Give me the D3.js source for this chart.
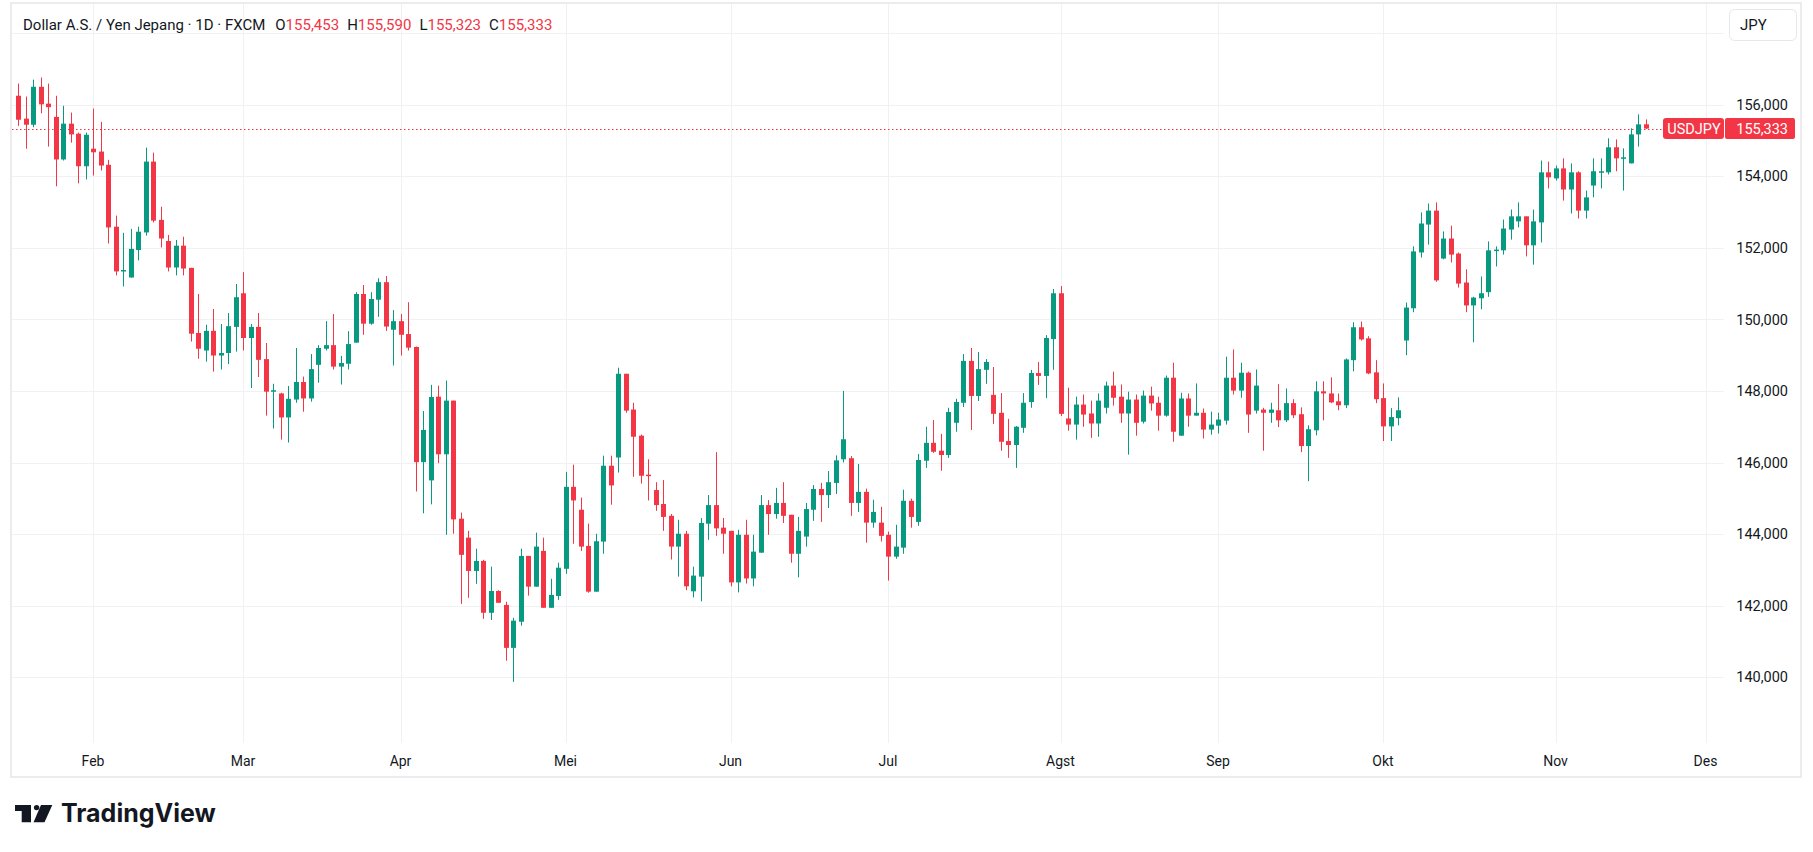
<!DOCTYPE html>
<html>
<head>
<meta charset="UTF-8">
<title>USDJPY 1D (FXCM)</title>
<script src="https://d3js.org/d3.v7.min.js"></script>
<style>
body { margin: 0; background: #fff; }
svg { display: block; font-family: "Trebuchet MS", Roboto, sans-serif; }
</style>
</head>
<body>
<div id="chart"></div>
<script>

// daily bars, first one is Mon 20 Jan 2025, weekdays only
var firstDay = new Date(2025, 0, 20)

var opens = [
156.25,155.61,155.44,156.50,156.03,155.66,154.47,155.47,155.19,154.28,
154.77,154.69,154.32,152.59,151.34,151.17,151.94,152.43,154.41,152.78,
152.19,151.45,152.06,151.44,149.62,149.13,149.68,148.99,149.06,149.79,
150.73,149.48,149.79,148.89,147.98,147.93,147.26,147.76,148.25,147.79,
148.73,149.18,149.28,148.68,148.76,149.35,150.71,149.88,150.55,151.04,
149.71,149.95,149.59,149.23,146.01,145.50,147.84,146.23,147.73,144.43,
143.90,142.97,143.25,141.80,142.41,142.02,140.82,141.55,143.39,142.53,
143.53,141.94,142.27,143.03,145.32,144.68,143.67,142.39,143.79,145.91,
146.14,148.48,147.48,146.75,145.66,145.23,144.84,144.51,143.65,144.01,
142.40,142.81,144.29,144.81,144.18,144.09,142.65,143.98,142.76,143.48,
144.81,144.56,144.87,144.54,143.45,143.93,144.68,145.26,145.09,145.43,
146.09,146.12,144.87,145.18,144.32,144.32,143.98,143.37,143.62,144.93,
144.34,146.05,146.55,146.33,146.21,147.11,147.67,148.84,147.86,148.59,
147.89,147.39,146.60,146.49,146.97,147.69,148.50,148.42,149.45,150.73,
147.23,147.06,147.62,147.37,147.09,147.53,148.15,147.84,147.37,147.76,
147.14,147.87,147.67,147.31,148.37,146.75,147.79,147.31,147.39,146.92,
147.03,147.17,148.37,148.01,148.51,147.45,147.48,147.39,147.46,147.18,
147.66,147.35,146.46,146.90,147.99,147.93,147.71,147.60,148.86,149.78,
149.47,148.52,147.80,147.01,147.24,149.41,150.31,151.87,152.65,153.04,
151.70,152.26,151.84,151.03,150.39,150.59,150.76,151.93,151.93,152.51,
152.74,152.88,152.07,152.71,154.11,153.94,154.22,153.63,154.11,153.04,
153.74,154.11,154.11,154.81,154.50,154.36,155.17,155.453]

var highs = [
156.59,156.23,156.70,156.76,156.59,156.25,155.97,155.78,155.22,155.22,
155.89,155.52,154.46,152.90,152.42,152.53,152.59,154.80,154.66,153.15,
152.36,152.22,152.31,151.44,150.71,149.85,150.29,149.87,150.18,150.99,
151.32,149.87,150.18,149.34,148.20,147.95,148.14,149.20,148.40,149.03,
149.28,149.95,150.15,148.98,149.67,150.76,150.96,150.76,151.15,151.21,
150.26,150.15,150.48,149.24,147.44,148.17,148.15,148.29,147.73,144.60,
144.09,143.59,143.28,143.09,142.43,142.11,141.66,143.59,143.39,144.04,
143.90,142.75,143.20,145.74,145.94,145.02,144.29,144.01,146.19,146.19,
148.65,148.48,147.67,146.78,146.09,145.45,145.51,144.56,144.40,144.09,
143.09,144.45,145.09,146.29,144.45,144.09,144.12,144.40,143.98,145.09,
144.95,145.29,145.45,144.54,144.48,144.87,145.37,145.43,145.76,146.20,
148.00,146.18,145.96,145.27,144.96,144.76,144.07,144.26,145.24,144.99,
146.24,147.00,147.19,146.80,147.53,147.78,149.03,149.20,149.09,148.89,
148.67,147.94,147.22,147.02,147.94,148.59,148.81,149.56,150.85,150.93,
148.09,147.84,147.90,147.73,147.93,148.26,148.54,148.18,147.98,147.90,
148.01,148.12,147.84,148.43,148.79,147.95,147.93,148.21,147.51,147.42,
147.39,148.96,149.16,148.79,148.54,148.60,147.53,147.67,148.19,148.07,
147.77,147.54,147.04,148.27,148.27,148.38,147.93,148.91,149.92,149.94,
149.53,148.86,148.21,147.52,147.82,150.47,152.04,152.99,153.24,153.27,
152.46,152.62,151.87,151.40,150.63,151.20,152.18,152.04,152.79,153.07,
153.27,152.88,153.07,154.44,154.41,154.30,154.50,154.36,154.14,153.60,
154.50,154.50,155.06,155.03,154.78,155.34,155.73,155.590]

var lows = [
155.41,154.77,155.37,155.76,154.83,153.72,154.44,154.94,153.80,153.91,
154.02,154.16,152.12,151.23,150.92,151.17,151.65,152.34,152.71,152.01,
151.34,151.23,151.23,149.38,148.90,148.82,148.54,148.60,148.75,149.10,
149.13,148.08,148.39,147.31,146.95,146.64,146.56,147.67,147.42,147.70,
148.23,149.13,148.60,148.18,148.60,149.35,149.57,149.85,150.07,149.68,
148.71,148.99,149.13,145.19,144.58,144.83,145.98,143.98,144.01,142.05,
142.22,142.61,141.63,141.60,142.08,140.46,139.87,141.44,142.28,142.53,
141.94,141.94,142.16,142.89,143.73,143.53,142.36,142.39,143.45,144.82,
145.72,147.39,145.60,145.41,144.94,144.65,144.09,143.29,142.81,142.43,
142.23,142.12,143.84,143.95,143.45,142.54,142.37,142.62,142.54,143.48,
143.98,144.43,144.31,143.20,142.79,143.65,144.37,144.34,144.73,145.12,
146.00,144.51,144.62,143.76,144.18,143.79,142.70,143.31,143.45,144.18,
144.23,145.85,146.27,145.77,146.13,146.86,147.55,146.91,147.72,148.20,
147.08,146.33,146.13,145.85,146.83,147.53,148.17,147.80,148.59,147.30,
146.89,146.64,147.00,146.69,146.72,147.37,147.59,147.11,146.22,146.75,
147.09,147.45,146.89,147.28,146.58,146.75,147.00,147.31,146.67,146.78,
146.81,147.06,147.90,147.81,146.83,147.37,146.33,147.11,146.99,147.13,
147.24,146.29,145.48,146.76,147.18,147.66,147.46,147.52,148.55,149.41,
148.47,147.66,146.60,146.60,147.04,149.00,150.20,151.73,152.09,151.05,
151.68,151.59,150.89,150.20,149.36,150.28,150.63,151.48,151.81,152.23,
152.57,151.76,151.53,152.15,153.66,153.88,153.32,152.96,152.82,152.82,
153.41,153.66,154.05,154.14,153.60,154.36,154.83,155.323]

var closes = [
155.58,155.44,156.50,156.01,155.93,154.47,155.47,155.17,154.28,155.16,
154.67,154.30,152.57,151.34,151.38,151.97,152.45,154.41,152.76,152.26,
151.45,152.06,151.42,149.60,149.18,149.68,148.99,149.06,149.81,150.62,
149.48,149.79,148.87,147.98,148.02,147.26,147.78,148.25,147.79,148.61,
149.20,149.28,148.68,148.78,149.31,150.71,149.88,150.57,151.04,149.80,
149.95,149.57,149.21,146.01,146.91,147.83,146.23,147.73,144.41,143.42,
142.97,143.25,141.80,142.41,142.08,140.82,141.58,143.39,142.53,143.65,
141.94,142.30,143.06,145.32,144.94,143.65,142.39,143.80,145.91,145.36,
148.48,147.45,146.72,145.63,145.63,144.81,144.48,143.65,144.01,142.54,
142.84,144.31,144.81,144.16,144.01,142.65,143.98,142.76,143.51,144.81,
144.56,144.87,144.51,143.45,144.09,144.70,145.26,145.09,145.45,146.06,
146.65,144.87,145.18,144.32,144.62,143.95,143.37,143.65,144.93,144.48,
146.07,146.55,146.30,146.21,147.41,147.69,148.84,147.86,148.61,148.81,
147.36,146.58,146.49,147.00,147.67,148.50,148.42,149.48,150.73,147.36,
147.06,147.62,147.34,147.09,147.73,148.15,147.81,147.37,147.76,147.11,
147.87,147.65,147.31,148.37,146.86,147.79,147.31,147.39,146.92,147.06,
147.20,148.37,148.01,148.51,147.34,148.15,147.39,147.48,147.18,147.66,
147.32,146.46,146.93,147.99,147.93,147.68,147.60,148.88,149.78,149.44,
148.49,147.77,147.01,147.27,147.46,150.33,151.90,152.68,153.04,151.09,
152.26,151.81,151.00,150.39,150.61,150.73,151.93,151.95,152.54,152.88,
152.88,152.07,152.74,154.11,153.97,154.22,153.63,154.11,153.04,153.41,
154.14,154.14,154.81,154.50,154.53,155.17,155.45,155.333]

var monthNames = ["Feb","Mar","Apr","Mei","Jun","Jul","Agst","Sep","Okt","Nov","Des"]
var priceTicks = [140,142,144,146,148,150,152,154,156]
var gridPrices = [140,142,144,146,148,150,152,154,156,158]
var symbolName = "USDJPY"
var titleText  = "Dollar A.S. / Yen Jepang · 1D · FXCM"
var currency   = "JPY"

// look
var width  = 1813
var height = 852
var up     = "#089981"
var down   = "#F23645"
var ink    = "#131722"
var gridc  = "#f0f1f3"

var slots  = 228            // bar slots visible across the pane
var paneL  = 12, paneR = 1724, paneT = 4, paneB = 743

var locale = d3.formatLocale({ decimal: ",", thousands: ".", grouping: [3], currency: ["", ""] })
var fmt = locale.format(".3f")

// trading days (Mon-Fri) for every slot
var days = d3.timeDay.range(firstDay, d3.timeDay.offset(firstDay, 400))
	.filter(function(d) { return d.getDay() != 0 && d.getDay() != 6 })
	.slice(0, slots)

var bars = opens.map(function(o, i) {
	return { i: i, o: o, h: highs[i], l: lows[i], c: closes[i] }
})

var x = d3.scaleBand()
	.domain(d3.range(slots))
	.range([14.25, 14.25 + 7.5 * slots])
	.paddingInner(0)

var y = d3.scaleLinear()
	.domain([140, 156])
	.range([677.2, 104.7])

function cx(i) { return x(i) + x.bandwidth() / 2 }

// first trading day of each month from Feb on
var monthTicks = monthNames.map(function(name, k) {
	var idx = days.findIndex(function(d) { return d.getMonth() == k + 1 })
	return { name: name, i: idx }
})

var svg = d3.select("#chart").append("svg")
	.attr("width", width)
	.attr("height", height)

svg.append("rect").attr("width", width).attr("height", height).attr("fill", "#fff")

// grid
svg.append("g").selectAll("line")
	.data(gridPrices).enter()
	.append("line")
		.attr("x1", paneL).attr("x2", paneR)
		.attr("y1", function(d) { return Math.round(y(d)) + 0.5 })
		.attr("y2", function(d) { return Math.round(y(d)) + 0.5 })
		.attr("stroke", gridc)

svg.append("g").selectAll("line")
	.data(monthTicks).enter()
	.append("line")
		.attr("x1", function(d) { return Math.round(cx(d.i)) + 0.5 })
		.attr("x2", function(d) { return Math.round(cx(d.i)) + 0.5 })
		.attr("y1", paneT).attr("y2", paneB)
		.attr("stroke", gridc)

// panel frame
svg.append("rect")
	.attr("x", 11).attr("y", 3)
	.attr("width", 1790).attr("height", 774)
	.attr("fill", "none")
	.attr("stroke", "#ececee")
	.attr("stroke-width", 2)

// last price dotted line
var last = bars[bars.length - 1]
svg.append("line")
	.attr("x1", paneL).attr("x2", 1663)
	.attr("y1", Math.round(y(last.c)) + 0.5).attr("y2", Math.round(y(last.c)) + 0.5)
	.attr("stroke", down)
	.attr("stroke-dasharray", "1.5,2.5")

// candles
var candle = svg.append("g").selectAll("g")
	.data(bars).enter()
	.append("g")

candle.append("line")
	.attr("x1", function(d) { return Math.round(cx(d.i)) + 0.5 })
	.attr("x2", function(d) { return Math.round(cx(d.i)) + 0.5 })
	.attr("y1", function(d) { return y(d.h) })
	.attr("y2", function(d) { return y(d.l) })
	.attr("stroke", function(d) { return d.c >= d.o ? up : down })
	.attr("stroke-width", 1)

candle.append("rect")
	.attr("x", function(d) { return Math.round(cx(d.i)) - 2 })
	.attr("width", 5)
	.attr("y", function(d) { return y(Math.max(d.o, d.c)) })
	.attr("height", function(d) { return Math.max(1.5, Math.abs(y(d.o) - y(d.c))) })
	.attr("fill", function(d) { return d.c >= d.o ? up : down })

// price scale labels
svg.append("g").selectAll("text")
	.data(priceTicks).enter()
	.append("text")
		.attr("x", 1788)
		.attr("y", function(d) { return y(d) })
		.attr("dy", "0.36em")
		.attr("text-anchor", "end")
		.attr("font-size", 14.5)
		.attr("fill", ink)
		.text(function(d) { return fmt(d) })

// time scale labels
svg.append("g").selectAll("text")
	.data(monthTicks).enter()
	.append("text")
		.attr("x", function(d) { return cx(d.i) })
		.attr("y", 761)
		.attr("dy", "0.36em")
		.attr("text-anchor", "middle")
		.attr("font-size", 14)
		.attr("fill", ink)
		.text(function(d) { return d.name })

// symbol + last price badges
var ly = y(last.c)
svg.append("rect")
	.attr("x", 1663).attr("y", ly - 10.5)
	.attr("width", 61).attr("height", 21)
	.attr("rx", 3)
	.attr("fill", down)
svg.append("rect")
	.attr("x", 1725).attr("y", ly - 10.5)
	.attr("width", 70).attr("height", 21)
	.attr("rx", 2)
	.attr("fill", down)
svg.append("text")
	.attr("x", 1694).attr("y", ly).attr("dy", "0.36em")
	.attr("text-anchor", "middle")
	.attr("font-size", 14.5).attr("fill", "#fff")
	.text(symbolName)
svg.append("text")
	.attr("x", 1788).attr("y", ly).attr("dy", "0.36em")
	.attr("text-anchor", "end")
	.attr("font-size", 14.5).attr("fill", "#fff")
	.text(fmt(last.c))

// currency button
svg.append("rect")
	.attr("x", 1729.5).attr("y", 9.5)
	.attr("width", 67).attr("height", 31)
	.attr("rx", 5)
	.attr("fill", "#fff")
	.attr("stroke", "#e6e7ea")
svg.append("text")
	.attr("x", 1740).attr("y", 25).attr("dy", "0.36em")
	.attr("font-size", 15).attr("fill", ink)
	.text(currency)

// legend line
var legend = svg.append("text")
	.attr("x", 23).attr("y", 25).attr("dy", "0.36em")
	.attr("font-size", 15).attr("fill", ink)
legend.append("tspan").text(titleText)
var ohlc = [["O", last.o], ["H", last.h], ["L", last.l], ["C", last.c]]
ohlc.forEach(function(p, k) {
	legend.append("tspan").attr("dx", k == 0 ? 10 : 8).text(p[0])
	legend.append("tspan").attr("fill", down).text(fmt(p[1]))
})

// TradingView mark
var logo = svg.append("g").attr("fill", ink)
logo.append("path").attr("d", "M15,805 H31 V822.3 H21.7 V811 H15 Z")
logo.append("circle").attr("cx", 36.6).attr("cy", 807.6).attr("r", 2.7)
logo.append("path").attr("d", "M41,805 H52.3 L44.5,822.3 H33.5 Z")
svg.append("text")
	.attr("x", 61).attr("y", 822.3)
	.attr("font-size", 25).attr("font-weight", 700)
	.attr("font-family", "Inter, Roboto, sans-serif")
	.attr("fill", ink)
	.text("TradingView")

</script>
</body>
</html>
